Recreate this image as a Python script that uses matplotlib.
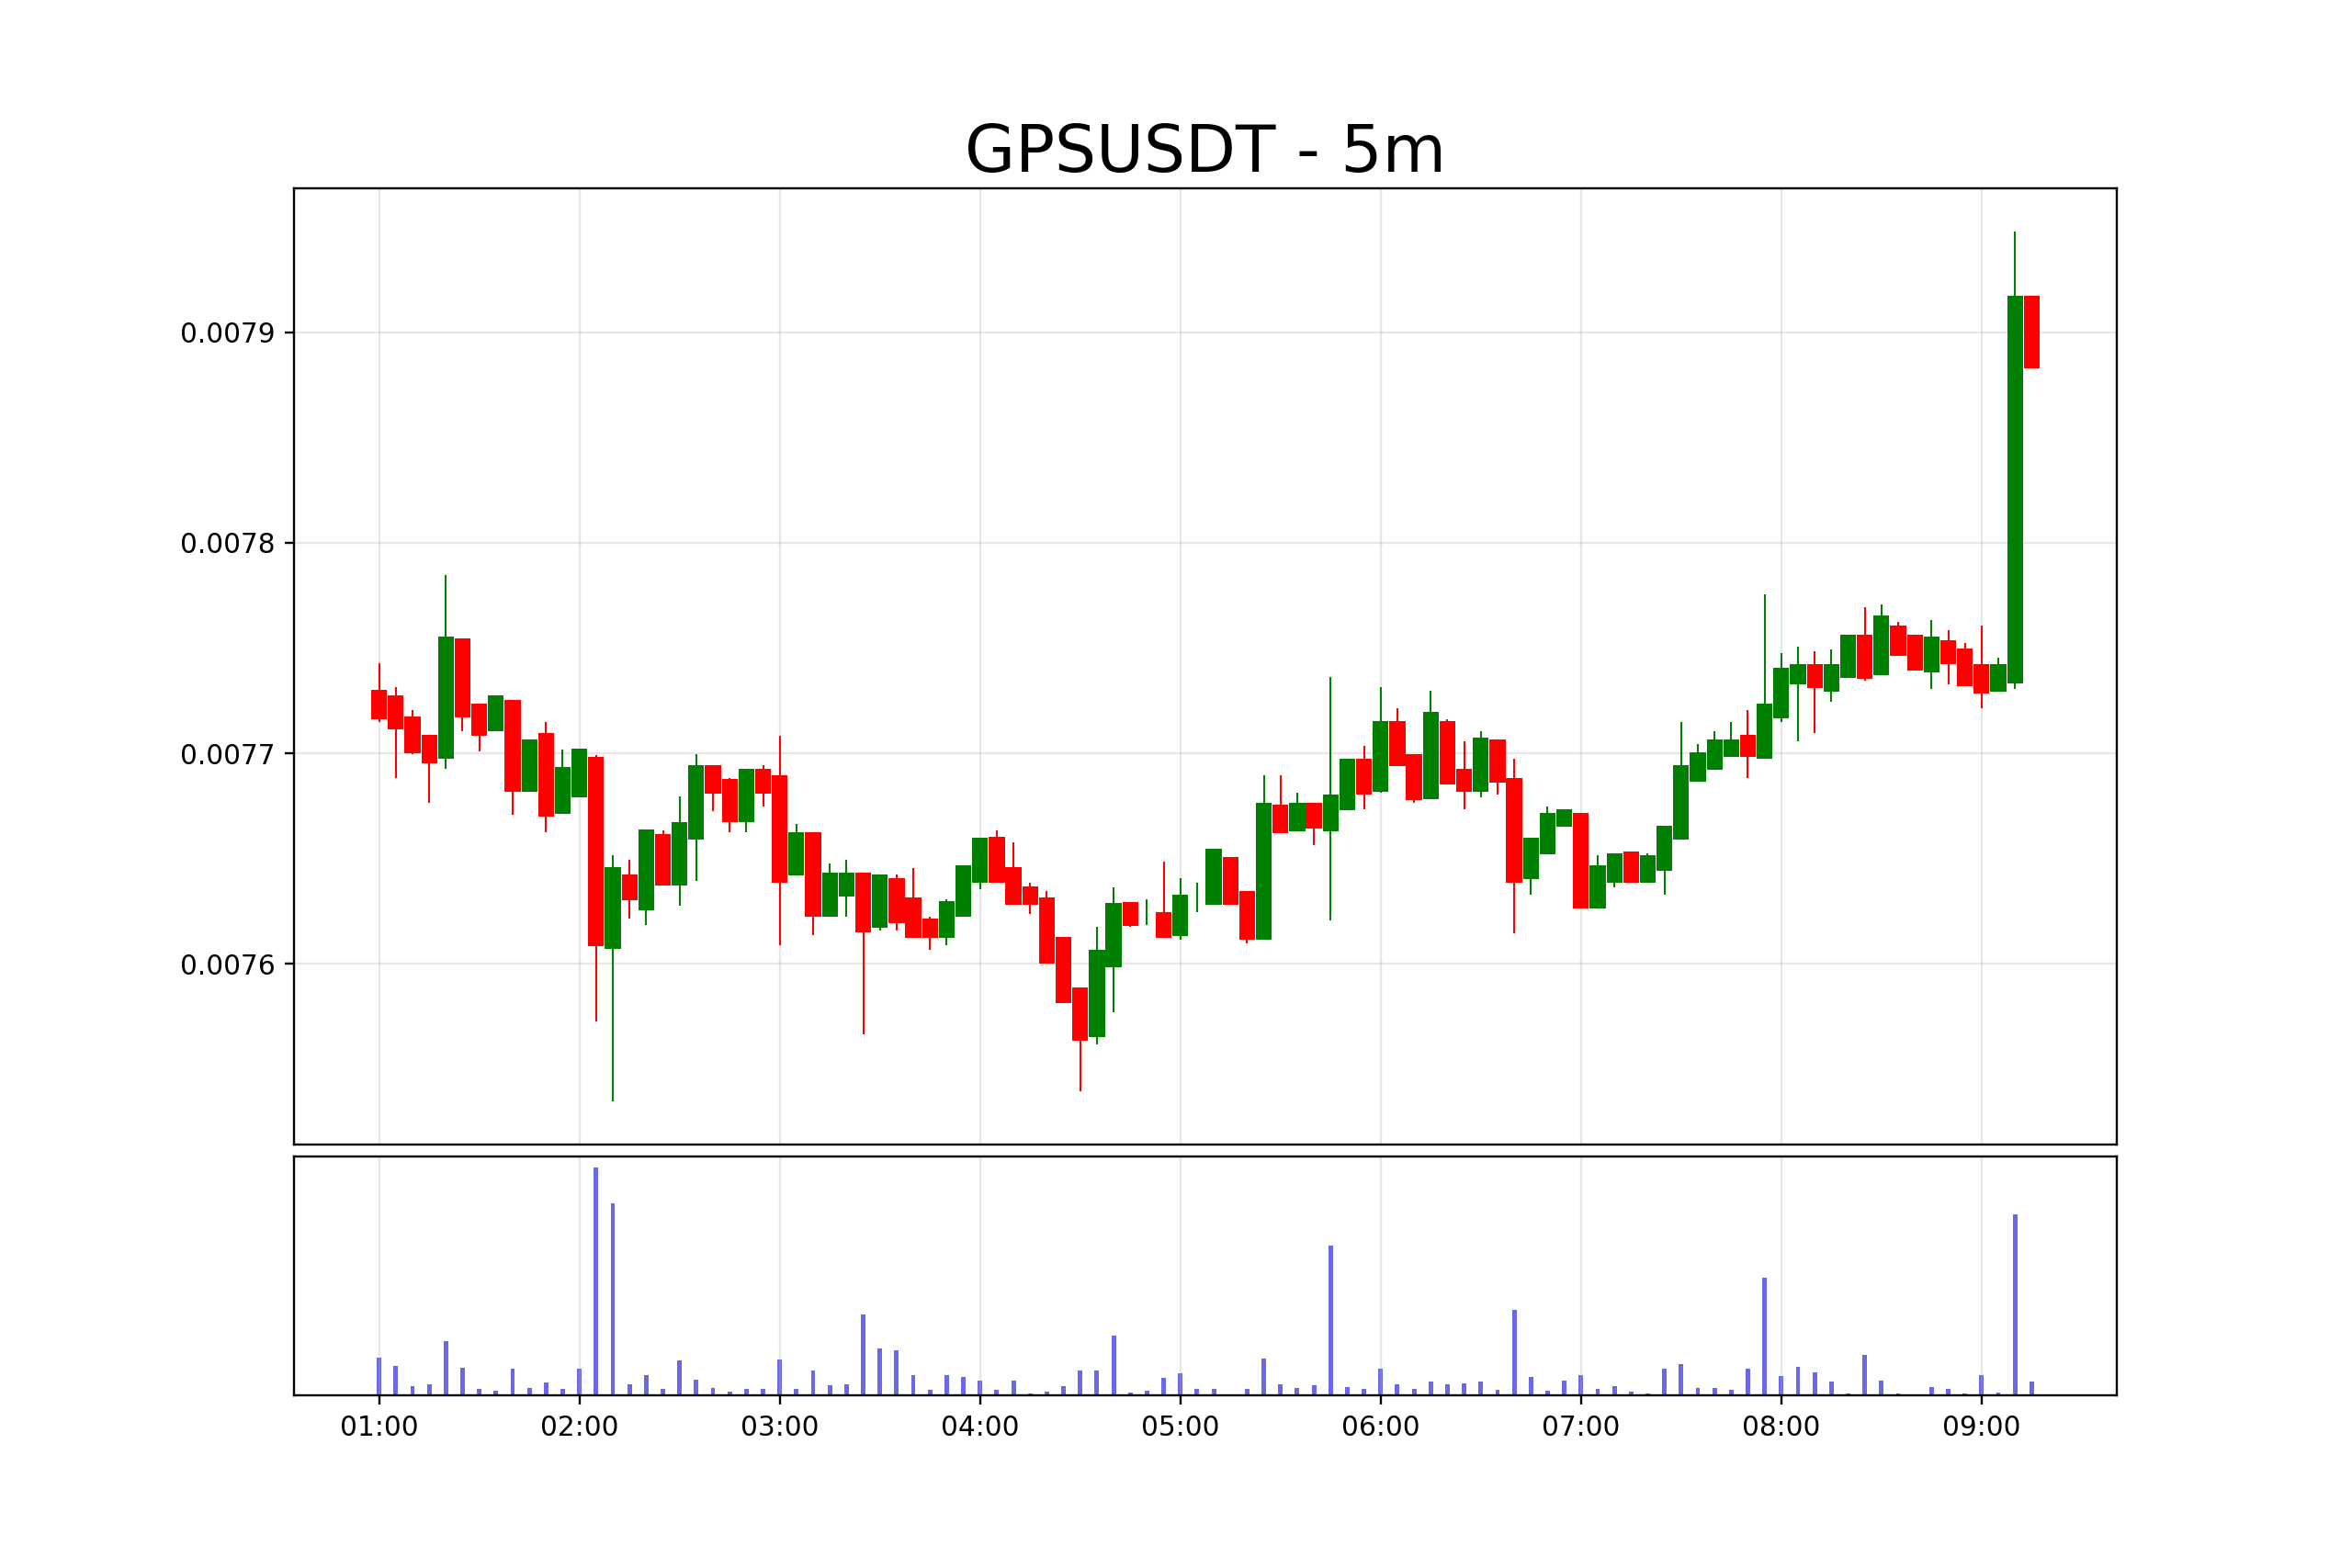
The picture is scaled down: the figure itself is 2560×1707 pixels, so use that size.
import numpy as np
import pandas as pd
import matplotlib
matplotlib.use("Agg")
import matplotlib.pyplot as plt
import matplotlib.dates as mdates
from matplotlib.ticker import MultipleLocator, FormatStrFormatter

# ---- data (prices in units of 1e-6 USDT) ----
start_time = "2024-01-01 01:00"
n_candles = 100

opens = [7730.3, 7727.6, 7717.6, 7708.6, 7697.2, 7754.5, 7723.6, 7710.5, 7725.3, 7681.9,
         7709.7, 7671.0, 7679.1, 7698.4, 7607.2, 7642.6, 7625.3, 7661.7, 7637.1, 7658.8,
         7694.5, 7687.9, 7667.1, 7692.6, 7689.7, 7641.9, 7662.4, 7622.4, 7632.1, 7643.4,
         7617.1, 7640.5, 7631.6, 7621.6, 7612.2, 7622.4, 7638.4, 7660.5, 7645.7, 7636.7,
         7631.6, 7612.6, 7588.6, 7565.3, 7598.3, 7629.5, 7624.0, 7624.7, 7613.1, 7631.0,
         7627.9, 7650.7, 7634.5, 7611.6, 7675.7, 7663.1, 7676.6, 7663.1, 7672.8, 7697.2,
         7681.9, 7715.5, 7699.5, 7678.1, 7715.5, 7692.6, 7681.9, 7706.6, 7688.4, 7640.2,
         7652.1, 7665.0, 7671.6, 7626.2, 7638.4, 7653.4, 7638.4, 7644.0, 7658.8, 7686.7,
         7692.2, 7698.1, 7708.6, 7697.2, 7716.7, 7732.9, 7742.4, 7729.3, 7736.0, 7756.5,
         7737.2, 7760.5, 7756.5, 7738.3, 7753.8, 7749.8, 7742.5, 7729.3, 7733.2, 7917.3]
highs = [7742.6, 7731.4, 7720.5, 7708.6, 7784.5, 7754.5, 7723.6, 7727.4, 7725.3, 7706.7,
         7714.8, 7701.6, 7702.4, 7699.1, 7651.6, 7649.5, 7663.8, 7663.3, 7679.7, 7699.5,
         7694.5, 7688.4, 7692.6, 7694.3, 7708.4, 7666.6, 7662.4, 7647.8, 7649.5, 7643.4,
         7642.6, 7642.6, 7645.5, 7622.4, 7630.5, 7646.7, 7659.8, 7663.3, 7657.6, 7638.6,
         7634.5, 7612.6, 7588.6, 7617.6, 7636.4, 7629.5, 7630.5, 7648.6, 7640.5, 7638.6,
         7654.7, 7650.7, 7634.5, 7689.5, 7689.5, 7681.4, 7676.6, 7736.2, 7697.2, 7703.4,
         7731.4, 7721.6, 7699.5, 7729.7, 7716.2, 7705.7, 7710.5, 7706.6, 7697.2, 7659.8,
         7674.5, 7673.6, 7671.6, 7651.6, 7652.4, 7653.4, 7652.4, 7665.7, 7714.8, 7704.5,
         7710.5, 7714.8, 7720.5, 7775.5, 7747.4, 7750.5, 7748.4, 7749.5, 7756.5, 7769.5,
         7770.7, 7762.5, 7756.5, 7763.3, 7758.3, 7752.3, 7760.7, 7745.3, 7947.8, 7917.3]
lows = [7714.7, 7688.3, 7699.5, 7676.6, 7692.6, 7710.7, 7700.7, 7710.5, 7670.7, 7681.9,
        7662.4, 7671.0, 7679.1, 7572.6, 7534.8, 7621.4, 7618.4, 7637.1, 7627.4, 7639.5,
        7672.4, 7662.4, 7662.4, 7674.5, 7608.6, 7641.9, 7613.6, 7622.4, 7622.4, 7566.7,
        7615.9, 7615.7, 7612.2, 7606.7, 7608.6, 7622.4, 7635.3, 7638.4, 7627.9, 7623.6,
        7600.0, 7581.4, 7539.5, 7561.6, 7577.1, 7617.4, 7618.4, 7612.2, 7611.6, 7624.7,
        7627.9, 7627.9, 7609.5, 7611.6, 7662.2, 7663.1, 7656.4, 7620.5, 7672.8, 7673.6,
        7681.4, 7694.1, 7676.6, 7678.1, 7685.0, 7673.6, 7679.1, 7680.3, 7614.7, 7632.9,
        7652.1, 7665.0, 7626.2, 7626.2, 7636.4, 7638.4, 7638.4, 7632.9, 7658.8, 7686.7,
        7692.2, 7698.1, 7688.4, 7697.2, 7715.0, 7705.7, 7709.7, 7724.5, 7736.0, 7734.5,
        7737.2, 7746.2, 7739.2, 7730.7, 7732.7, 7731.8, 7721.5, 7729.3, 7730.7, 7882.8]
closes = [7716.0, 7711.2, 7699.8, 7695.2, 7755.3, 7716.9, 7708.3, 7727.4, 7681.9, 7706.7,
          7670.0, 7693.6, 7702.4, 7608.4, 7645.7, 7630.0, 7663.8, 7637.1, 7667.4, 7694.5,
          7681.0, 7667.1, 7692.6, 7681.0, 7638.4, 7662.4, 7622.4, 7643.4, 7643.4, 7615.0,
          7642.6, 7619.1, 7612.2, 7612.2, 7629.7, 7646.7, 7659.8, 7638.4, 7627.9, 7627.9,
          7600.0, 7581.4, 7563.3, 7606.7, 7628.8, 7618.1, 7624.2, 7612.2, 7632.8, 7631.2,
          7654.7, 7627.9, 7611.6, 7676.6, 7662.2, 7676.6, 7664.1, 7680.3, 7697.2, 7680.3,
          7715.5, 7694.1, 7677.9, 7719.7, 7685.0, 7681.9, 7707.4, 7685.9, 7638.4, 7659.8,
          7671.6, 7673.6, 7626.2, 7646.7, 7652.4, 7638.4, 7651.7, 7665.7, 7694.5, 7700.5,
          7706.6, 7706.6, 7698.1, 7723.4, 7740.5, 7742.4, 7730.9, 7742.5, 7756.5, 7735.2,
          7765.3, 7746.2, 7739.2, 7755.3, 7742.2, 7731.8, 7728.5, 7742.5, 7917.3, 7882.8]
# relative volume (max = 100)
volumes = [16.8, 13.1, 4.0, 4.8, 24.0, 12.2, 2.8, 2.2, 11.8, 3.4,
           5.8, 3.0, 11.7, 100.0, 84.5, 5.0, 9.0, 3.0, 15.5, 7.0,
           3.4, 1.7, 3.0, 2.8, 15.7, 2.8, 11.0, 4.6, 5.0, 35.7,
           20.7, 19.9, 9.0, 2.6, 8.9, 8.2, 6.6, 2.6, 6.6, 0.8,
           1.7, 4.0, 11.0, 11.0, 26.4, 1.3, 2.2, 7.8, 9.6, 2.8,
           3.0, 0.5, 3.0, 16.3, 5.0, 3.4, 4.6, 65.8, 3.9, 2.8,
           11.7, 5.0, 3.0, 6.1, 5.0, 5.4, 6.2, 2.6, 37.7, 8.1,
           2.0, 6.6, 9.0, 3.0, 4.0, 1.7, 0.8, 11.8, 13.9, 3.4,
           3.4, 2.6, 11.8, 51.8, 8.6, 12.7, 10.1, 6.1, 0.8, 17.9,
           6.6, 0.8, 0.2, 3.8, 2.8, 0.8, 8.9, 1.3, 79.5, 6.2]

title = "GPSUSDT - 5m"
price_unit = 1e-6

# ---- build ----
times = pd.date_range(start_time, periods=n_candles, freq="5min")
x = mdates.date2num(times.to_pydatetime())
o = np.array(opens) * price_unit
h = np.array(highs) * price_unit
l = np.array(lows) * price_unit
c = np.array(closes) * price_unit
v = np.array(volumes)

up = c >= o
colors = np.where(up, "green", "red")

interval = x[1] - x[0]
body_w = interval * 0.95
vol_w = interval * 0.27

W, H = 2560, 1707
dpi = 2560 / 12
fig = plt.figure(figsize=(W / dpi, H / dpi), dpi=dpi)
gs = fig.add_gridspec(2, 1, height_ratios=[4, 1], hspace=0.02)
ax1 = fig.add_subplot(gs[0])
ax2 = fig.add_subplot(gs[1], sharex=ax1)

ax1.vlines(x, l, h, colors=colors, linewidth=0.7, zorder=2)
ax1.bar(x, np.abs(c - o), bottom=np.minimum(o, c), width=body_w,
        color=colors, linewidth=0, zorder=3)

ax2.bar(x, v, width=vol_w, color="#6868e8")

# limits like default autoscale (5% margins)
span = (x[-1] - x[0]) + vol_w
ax1.set_xlim(x[0] - vol_w / 2 - 0.05 * span, x[-1] + vol_w / 2 + 0.05 * span)
pr = h.max() - l.min()
ax1.set_ylim(l.min() - 0.05 * pr, h.max() + 0.05 * pr)
ax2.set_ylim(0, v.max() * 1.05)

ax1.yaxis.set_major_locator(MultipleLocator(0.0001))
ax1.yaxis.set_major_formatter(FormatStrFormatter("%.4f"))
ax2.xaxis.set_major_locator(mdates.HourLocator(interval=1))
ax2.xaxis.set_major_formatter(mdates.DateFormatter("%H:%M"))
ax1.tick_params(axis="x", which="both", bottom=False, labelbottom=False)
ax2.set_yticks([])

ax1.grid(True, alpha=0.3)
ax2.grid(True, alpha=0.3)
ax1.set_title(title, fontsize=24)

fig.savefig("out.png", dpi=dpi)
